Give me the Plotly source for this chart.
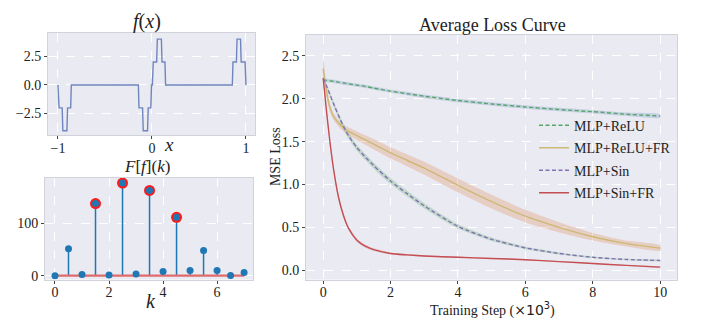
import plotly.graph_objects as go

W, H = 701, 332

# ---- f(x): piecewise-constant signal on [-1, 1] ----
fx_x = [-1.0, -0.988, -0.955, -0.948, -0.905, -0.898, -0.865, -0.858,
        -0.145, -0.138, -0.100, -0.093, -0.047, -0.040, -0.012, -0.005,
        0.004, 0.014, 0.050, 0.057, 0.100, 0.107, 0.138, 0.145,
        0.855, 0.862, 0.898, 0.905, 0.942, 0.949, 0.990, 1.0]
fx_y = [0, -2, -2, -4, -4, -2, -2, 0,
        0, -2, -2, -4, -4, -2, -2, 0,
        0, 2, 2, 4, 4, 2, 2, 0,
        0, 2, 2, 4, 4, 2, 2, 0]

# ---- Fourier magnitudes F[f](k) ----
freq_k = [0, 0.5, 1, 1.5, 2, 2.5, 3, 3.5, 4, 4.5, 5, 5.5, 6, 6.5, 7]
freq_mag = [0, 51, 2, 137, 1, 176, 3, 162, 8, 111, 10, 48, 10, 0.5, 6]
highlight_k = [1.5, 2.5, 3.5, 4.5]

# ---- Average loss curves ----
steps = [0, 0.1, 0.2, 0.3, 0.45, 0.6, 0.75, 1.0, 1.25, 1.5, 2, 2.5, 3,
         4, 5, 6, 7, 8, 9, 10]
loss_relu = [2.22, 2.215, 2.21, 2.205, 2.195, 2.185, 2.175, 2.16, 2.145, 2.125,
             2.09, 2.06, 2.03, 1.98, 1.94, 1.905, 1.875, 1.85, 1.82, 1.80]
loss_relu_fr = [2.35, 2.08, 1.90, 1.80, 1.72, 1.66, 1.62, 1.57, 1.52, 1.47,
                1.37, 1.28, 1.19, 0.99, 0.80, 0.63, 0.50, 0.39, 0.31, 0.257]
loss_sin = [2.24, 2.15, 2.05, 1.95, 1.81, 1.68, 1.57, 1.43, 1.32, 1.22,
            1.04, 0.89, 0.75, 0.51, 0.36, 0.26, 0.195, 0.15, 0.125, 0.113]
loss_sin_fr = [2.24, 1.85, 1.50, 1.20, 0.86, 0.64, 0.49, 0.35, 0.28, 0.24,
               0.195, 0.178, 0.165, 0.15, 0.137, 0.122, 0.10, 0.078, 0.056, 0.035]

# spread (half-width) of each run band
std_relu = [0.02] * 20
std_relu_fr = [0.15, 0.08, 0.05, 0.04, 0.04, 0.04, 0.045, 0.05, 0.055, 0.06,
               0.065, 0.07, 0.075, 0.08, 0.08, 0.075, 0.06, 0.045, 0.035, 0.03]
std_sin = [0.03, 0.03, 0.03, 0.03, 0.032, 0.034, 0.035, 0.035, 0.035, 0.035,
           0.035, 0.033, 0.03, 0.025, 0.02, 0.015, 0.012, 0.01, 0.008, 0.006]
std_sin_fr = [0.02, 0.03, 0.03, 0.03, 0.03, 0.025, 0.02, 0.02, 0.018, 0.016,
              0.012, 0.01, 0.008, 0.007, 0.006, 0.006, 0.005, 0.005, 0.004, 0.004]

BG = "#EAEAF2"
SERIF = "Times New Roman, Liberation Serif, serif"
TXT = "#222222"


def px_x(p):
    return p / W


def px_y(p):
    return 1 - p / H


fig = go.Figure()

# f(x)
fig.add_trace(go.Scatter(x=fx_x, y=fx_y, mode="lines",
                         line=dict(color="#6f86bd", width=1.4),
                         xaxis="x", yaxis="y", showlegend=False))

# stems
stem_x, stem_y = [], []
for k, m in zip(freq_k, freq_mag):
    stem_x += [k, k, None]
    stem_y += [0, m, None]
fig.add_trace(go.Scatter(x=stem_x, y=stem_y, mode="lines",
                         line=dict(color="#1f77b4", width=1.5),
                         xaxis="x2", yaxis="y2", showlegend=False))
fig.add_trace(go.Scatter(x=[freq_k[0], freq_k[-1]], y=[0, 0], mode="lines",
                         line=dict(color="#e06b6b", width=2.2),
                         xaxis="x2", yaxis="y2", showlegend=False))
hk = [k for k in freq_k if k in highlight_k]
hm = [m for k, m in zip(freq_k, freq_mag) if k in highlight_k]
fig.add_trace(go.Scatter(x=hk, y=hm, mode="markers",
                         marker=dict(color="#ff1a1a", size=11),
                         xaxis="x2", yaxis="y2", showlegend=False))
fig.add_trace(go.Scatter(x=freq_k, y=freq_mag, mode="markers",
                         marker=dict(color="#1f77b4", size=7),
                         xaxis="x2", yaxis="y2", showlegend=False))

# loss bands
bands = [
    (loss_relu, std_relu, "rgba(76,114,176,0.22)"),
    (loss_relu_fr, std_relu_fr, "rgba(221,132,82,0.28)"),
    (loss_sin, std_sin, "rgba(85,168,104,0.28)"),
    (loss_sin_fr, std_sin_fr, "rgba(196,78,82,0.25)"),
]
for mean, sd, col in bands:
    up = [m + s for m, s in zip(mean, sd)]
    lo = [m - s for m, s in zip(mean, sd)]
    fig.add_trace(go.Scatter(x=steps + steps[::-1], y=up + lo[::-1],
                             fill="toself", fillcolor=col, mode="lines",
                             line=dict(width=0, shape="spline", smoothing=0.6),
                             hoverinfo="skip", xaxis="x3", yaxis="y3",
                             showlegend=False))

curves = [
    ("MLP+ReLU", loss_relu, "#55A868", "4px,2.5px"),
    ("MLP+ReLU+FR", loss_relu_fr, "#CCB974", "solid"),
    ("MLP+Sin", loss_sin, "#8172B3", "4px,2.5px"),
    ("MLP+Sin+FR", loss_sin_fr, "#C44E52", "solid"),
]
for name, ys, col, dash in curves:
    fig.add_trace(go.Scatter(x=steps, y=ys, mode="lines", name=name,
                             legendgroup=name,
                             line=dict(color=col, width=1.4, dash=dash,
                                       shape="spline", smoothing=0.6),
                             xaxis="x3", yaxis="y3"))

axis_common = dict(showgrid=True, gridcolor="white", griddash="dash",
                   gridwidth=1, zeroline=False, showline=True, mirror=True,
                   linecolor="#d2d2da", linewidth=1, ticks="outside",
                   ticklen=3, tickcolor="#444", tickwidth=1,
                   tickfont=dict(family=SERIF, size=14, color=TXT))
xtick_pull = dict(ticklabelstandoff=-3)

fig.update_layout(
    width=W, height=H,
    margin=dict(l=0, r=0, t=0, b=0),
    paper_bgcolor="white", plot_bgcolor=BG,
    font=dict(family=SERIF, color=TXT),
    xaxis=dict(domain=[px_x(48), px_x(255)], range=[-1.106, 1.096],
               tickvals=[-1, 0, 1], anchor="y", **axis_common, **xtick_pull),
    yaxis=dict(domain=[px_y(137), px_y(33)], range=[-4.4, 4.57],
               tickvals=[-2.5, 0, 2.5], tickformat=".1f", anchor="x",
               **axis_common),
    xaxis2=dict(domain=[px_x(45), px_x(253)], range=[-0.37, 7.33],
                tickvals=[0, 2, 4, 6], anchor="y2", **axis_common,
                **xtick_pull),
    yaxis2=dict(domain=[px_y(283), px_y(180)], range=[-7.5, 186],
                tickvals=[0, 100], anchor="x2", **axis_common),
    xaxis3=dict(domain=[px_x(306), px_x(677)], range=[-0.51, 10.5],
                tickvals=[0, 2, 4, 6, 8, 10], anchor="y3", **axis_common,
                **xtick_pull),
    yaxis3=dict(domain=[px_y(283), px_y(35)], range=[-0.11, 2.75],
                tickvals=[0, 0.5, 1, 1.5, 2, 2.5], tickformat=".1f",
                anchor="x3", **axis_common),
    legend=dict(x=px_x(534), y=px_y(111), xanchor="left", yanchor="top",
                bgcolor="rgba(0,0,0,0)", borderwidth=0,
                font=dict(family=SERIF, size=14, color=TXT),
                itemwidth=30, tracegroupgap=1.3),
)

ann = [
    ("<i>f</i>(<i>x</i>)", 147, 22, 20, 0),
    ("<i>x</i>", 169, 146, 19, 0),
    ("<i>F</i>[<i>f</i>](<i>k</i>)", 147, 169, 17, 0),
    ("<i>k</i>", 151, 305, 20, 0),
    ("Average Loss Curve", 492, 25, 18, 0),
    ("Training Step (<span style=\"font-family:DejaVu Sans\">×10<sup>3</sup></span>)",
     492, 313, 14, 0),
    ("MSE Loss", 275, 159, 14, -90),
]
for text, x, y, size, ang in ann:
    fig.add_annotation(text=text, x=px_x(x), y=px_y(y), xref="paper",
                       yref="paper", xanchor="center", yanchor="middle",
                       showarrow=False, textangle=ang,
                       font=dict(family=SERIF, size=size, color=TXT))

fig.write_html("out.html")
